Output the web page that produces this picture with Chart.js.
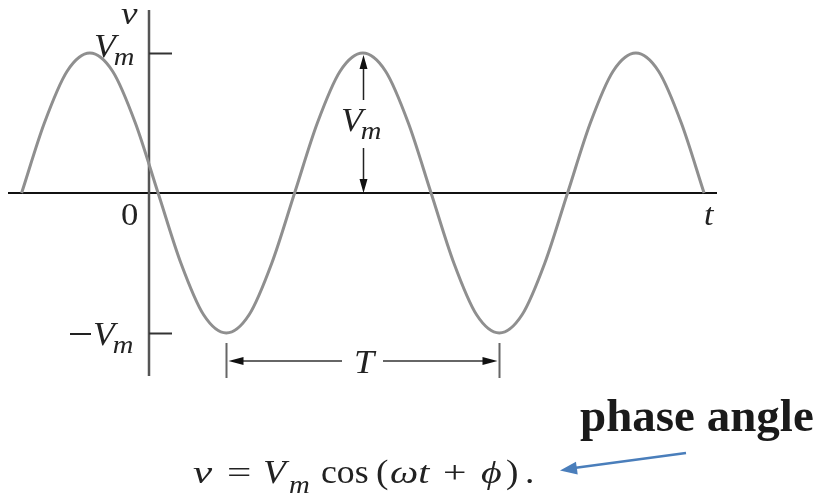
<!DOCTYPE html>
<html>
<head>
<meta charset="utf-8">
<title>v = Vm cos(ωt + φ)</title>
<script src="https://cdn.jsdelivr.net/npm/chart.js@4"></script>
<style>
  html, body { margin: 0; padding: 0; background: #fff; }
  #wave { display: block; }
</style>
</head>
<body>
<canvas id="wave" width="821" height="498"></canvas>
<script>
// phase ωt in degrees, sampled every 30°, and v in units of Vm
const phaseDeg = [-168, -138, -108, -78, -48, -18, 12, 42, 72, 102, 132, 162, 192, 222, 252, 282,
  312, 342, 372, 402, 432, 462, 492, 522, 552, 582, 612, 642, 672, 702, 732];
const voltage = [0, 0.5, 0.87, 1, 0.87, 0.5, 0, -0.5, -0.87, -1, -0.87, -0.5, 0, 0.5, 0.87, 1,
  0.87, 0.5, 0, -0.5, -0.87, -1, -0.87, -0.5, 0, 0.5, 0.87, 1, 0.87, 0.5, 0];

const tickValues = [1, 0, -1];
const tickLabels = ['V_m', '0', '−V_m'];
const periodFrom = 102;   // trough where the T bracket starts
const periodTo = 462;     // next trough
const peakAt = 282;       // peak that carries the Vm arrow

const SERIF = '"Liberation Serif", "DejaVu Serif", serif';

// text with an optional horizontal stretch (the book figure's type is wide)
function wideText(ctx, txt, x, y, font, sx) {
  ctx.save();
  ctx.font = `${font} ${SERIF}`;
  ctx.textAlign = 'left';
  ctx.textBaseline = 'alphabetic';
  ctx.translate(x, y);
  ctx.scale(sx || 1, 1);
  ctx.fillText(txt, 0, 0);
  ctx.restore();
}

// "V" with an italic subscript "m"
function drawVm(ctx, x, y, size, subSize) {
  ctx.fillStyle = '#222';
  ctx.font = `italic ${size}px ${SERIF}`;
  const w = ctx.measureText('V').width * 1.08;
  wideText(ctx, 'V', x, y, `italic ${size}px`, 1.08);
  wideText(ctx, 'm', x + w - 2, y + subSize * 0.3, `italic ${subSize}px`, 1.1);
}

function arrowHead(ctx, tipX, tipY, dx, dy, len, half) {
  const bx = tipX - dx * len, by = tipY - dy * len;
  ctx.beginPath();
  ctx.moveTo(tipX, tipY);
  ctx.lineTo(bx - dy * half, by + dx * half);
  ctx.lineTo(bx + dy * half, by - dx * half);
  ctx.closePath();
  ctx.fill();
}

const axesPlugin = {
  id: 'axes',
  beforeDatasetsDraw(chart) {
    const { ctx } = chart;
    const xs = chart.scales.x, ys = chart.scales.y;
    const x0 = xs.getPixelForValue(0);
    const y0 = ys.getPixelForValue(0);
    ctx.save();

    // t axis
    ctx.strokeStyle = '#111';
    ctx.lineWidth = 2;
    ctx.beginPath();
    ctx.moveTo(8, y0);
    ctx.lineTo(717, y0);
    ctx.stroke();

    // v axis
    ctx.strokeStyle = '#555';
    ctx.lineWidth = 2.5;
    ctx.beginPath();
    ctx.moveTo(x0, 10);
    ctx.lineTo(x0, 376);
    ctx.stroke();

    // ticks at +Vm and -Vm
    ctx.strokeStyle = '#333';
    ctx.lineWidth = 2;
    tickValues.forEach(val => {
      if (val === 0) return;
      const yp = Math.round(ys.getPixelForValue(val)) + 0.5;
      ctx.beginPath();
      ctx.moveTo(x0, yp);
      ctx.lineTo(x0 + 23, yp);
      ctx.stroke();
    });
    ctx.restore();
  },
  afterDatasetsDraw(chart) {
    const { ctx } = chart;
    const xs = chart.scales.x, ys = chart.scales.y;
    const x0 = xs.getPixelForValue(0);
    const y0 = ys.getPixelForValue(0);
    ctx.save();

    // axis names
    ctx.fillStyle = '#222';
    wideText(ctx, 'v', x0 - 28, 24, 'italic 31px', 1.2);
    wideText(ctx, 't', 704, 225, 'italic 31px', 1.1);

    // tick labels
    tickValues.forEach((val, i) => {
      const yp = ys.getPixelForValue(val);
      if (val === 0) {
        ctx.fillStyle = '#222';
        wideText(ctx, tickLabels[i], x0 - 28, y0 + 32, '31px', 1.12);
      } else if (val > 0) {
        drawVm(ctx, 94, yp + 4, 33, 26);
      } else {
        ctx.fillStyle = '#222';
        ctx.fillRect(70, Math.round(yp), 21, 2);
        drawVm(ctx, 93, yp + 12, 33, 26);
      }
    });

    // amplitude arrows under the middle peak
    const xp = Math.round(xs.getPixelForValue(peakAt)) + 0.5;
    const yPeak = ys.getPixelForValue(1);
    ctx.strokeStyle = '#222';
    ctx.fillStyle = '#111';
    ctx.lineWidth = 1.5;
    ctx.beginPath();
    ctx.moveTo(xp, yPeak + 8);
    ctx.lineTo(xp, 100);
    ctx.moveTo(xp, 148);
    ctx.lineTo(xp, y0 - 8);
    ctx.stroke();
    arrowHead(ctx, xp, yPeak + 2, 0, -1, 14, 4);
    arrowHead(ctx, xp, y0, 0, 1, 14, 4);
    drawVm(ctx, 341, 131, 33, 26);

    // period bracket between two troughs
    const xa = Math.round(xs.getPixelForValue(periodFrom)) + 0.5;
    const xb = Math.round(xs.getPixelForValue(periodTo)) + 0.5;
    const yb = 361;
    ctx.strokeStyle = '#666';
    ctx.lineWidth = 2;
    ctx.beginPath();
    ctx.moveTo(xa, 343); ctx.lineTo(xa, 378);
    ctx.moveTo(xb, 343); ctx.lineTo(xb, 378);
    ctx.moveTo(xa + 10, yb); ctx.lineTo(342, yb);
    ctx.moveTo(383, yb); ctx.lineTo(xb - 10, yb);
    ctx.stroke();
    ctx.fillStyle = '#111';
    arrowHead(ctx, xa + 2, yb, -1, 0, 15, 4);
    arrowHead(ctx, xb - 2, yb, 1, 0, 15, 4);
    ctx.fillStyle = '#222';
    wideText(ctx, 'T', 354, 373, 'italic 33px', 1.1);

    // waveform equation: text, font, x, baseline offset, horizontal stretch
    const base = 483;
    const eq = [
      ['v', 'italic 32px', 193, 0, 1.35],
      ['=', '32px', 227, 0, 1.35],
      ['V', 'italic 34px', 263, 0, 1.1],
      ['m', 'italic 25px', 289, 10, 1.15],
      ['cos', '34px', 321, 0, 1.05],
      ['(', '34px', 376, 0, 1.1],
      ['ωt', 'italic 32px', 390, 0, 1.25],
      ['+', '32px', 443, 0, 1.3],
      ['ϕ', 'italic 32px', 481, 0, 1.25],
      [')', '34px', 506, 0, 1.1],
      ['.', '34px', 525, 0, 1.1]
    ];
    ctx.fillStyle = '#222';
    eq.forEach(([txt, font, px, dy, sx]) => wideText(ctx, txt, px, base + dy, font, sx));

    // phase angle callout
    ctx.fillStyle = '#1a1a1a';
    ctx.font = `bold 47px ${SERIF}`;
    ctx.textAlign = 'left';
    ctx.fillText('phase angle', 580, 431);
    ctx.strokeStyle = '#4a7ebb';
    ctx.fillStyle = '#4a7ebb';
    ctx.lineWidth = 2.5;
    ctx.beginPath();
    ctx.moveTo(686, 453);
    ctx.lineTo(574, 468);
    ctx.stroke();
    const ang = Math.atan2(470.5 - 453, 560 - 686);
    arrowHead(ctx, 560, 470.5, Math.cos(ang), Math.sin(ang), 17, 6.5);

    ctx.restore();
  }
};

new Chart(document.getElementById('wave'), {
  type: 'line',
  data: {
    datasets: [{
      data: phaseDeg.map((p, i) => ({ x: p, y: voltage[i] })),
      borderColor: '#8f8f8f',
      borderWidth: 3,
      pointRadius: 0,
      cubicInterpolationMode: 'monotone',
      fill: false
    }]
  },
  options: {
    responsive: false,
    animation: false,
    devicePixelRatio: 1,
    layout: { padding: 0 },
    plugins: { legend: { display: false }, tooltip: { enabled: false } },
    scales: {
      // 0.7583 px per degree, t = 0 at x = 149; 140 px per Vm, v = 0 at y = 193
      x: { type: 'linear', display: false, min: -196.5, max: 886.2 },
      y: { type: 'linear', display: false, min: -2.1786, max: 1.3786 }
    }
  },
  plugins: [axesPlugin]
});
</script>
</body>
</html>
